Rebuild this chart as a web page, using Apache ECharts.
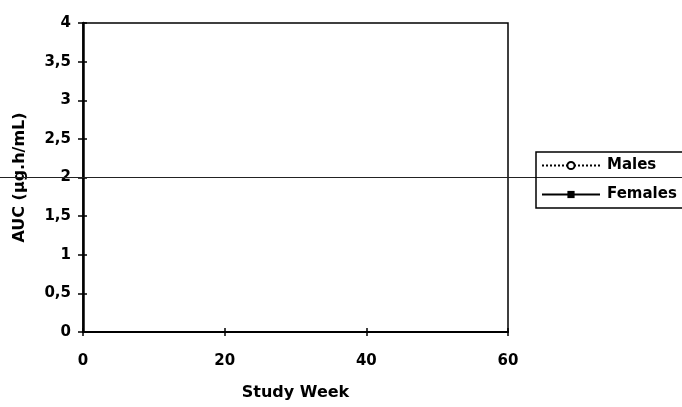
<!DOCTYPE html>
<html><head><meta charset="utf-8">
<script src="https://cdn.jsdelivr.net/npm/echarts@6/dist/echarts.min.js"></script>
<style>html,body{margin:0;padding:0;background:#fff}#c{width:682px;height:407px}</style>
</head><body><div id="c"></div>
<script>
const xTicks = [0, 20, 40, 60];
const yTicks = [0, 0.5, 1, 1.5, 2, 2.5, 3, 3.5, 4];
const seriesNames = ['Males', 'Females'];
const malesData = [];
const femalesData = [];
const refLineValue = 2;
const refLineSpan = [0, 1];

const font = {fontFamily: 'DejaVu Sans, Liberation Sans, Arial, sans-serif', fontWeight: 'bold', color: '#000'};
const xMin = xTicks[0], xMax = xTicks[xTicks.length - 1], xInt = xTicks[1] - xTicks[0];
const yMin = yTicks[0], yMax = yTicks[yTicks.length - 1], yInt = yTicks[1] - yTicks[0];
const chart = echarts.init(document.getElementById('c'));
chart.setOption({
  animation: false,
  backgroundColor: '#fff',
  grid: [
    {left: 83, right: 174, top: 23, bottom: 75, show: true, borderColor: '#000', borderWidth: 1.5},
    {left: 0, right: 0, top: 23, bottom: 75, show: false}
  ],
  xAxis: [
    {type: 'value', gridIndex: 0, min: xMin, max: xMax, interval: xInt, position: 'bottom',
     name: 'Study Week', nameLocation: 'middle', nameGap: 53,
     nameTextStyle: Object.assign({fontSize: 16}, font),
     axisLine: {show: true, onZero: false, lineStyle: {color: '#000', width: 2}},
     axisTick: {show: true, inside: false, length: 4, lineStyle: {color: '#000', width: 1.5}},
     axisLabel: Object.assign({fontSize: 15, margin: 22}, font),
     splitLine: {show: false}},
    {type: 'value', gridIndex: 1, min: refLineSpan[0], max: refLineSpan[1], show: false},
    {type: 'value', gridIndex: 0, min: xMin, max: xMax, interval: xInt, position: 'bottom',
     axisLine: {show: false, onZero: false},
     axisTick: {show: true, inside: true, length: 4, lineStyle: {color: '#000', width: 1.5}},
     axisLabel: {show: false}, splitLine: {show: false}}
  ],
  yAxis: [
    {type: 'value', gridIndex: 0, min: yMin, max: yMax, interval: yInt, position: 'left',
     name: 'AUC (µg.h/mL)', nameLocation: 'middle', nameGap: 55, nameRotate: 90,
     nameTextStyle: Object.assign({fontSize: 16}, font),
     axisLine: {show: true, onZero: false, lineStyle: {color: '#000', width: 2.5}},
     axisTick: {show: true, inside: false, length: 5, lineStyle: {color: '#000', width: 1.5}},
     axisLabel: Object.assign({fontSize: 15, margin: 12, formatter: v => String(v).replace('.', ',')}, font),
     splitLine: {show: false}},
    {type: 'value', gridIndex: 1, min: yMin, max: yMax, show: false},
    {type: 'value', gridIndex: 0, min: yMin, max: yMax, interval: yInt, position: 'left',
     axisLine: {show: false, onZero: false},
     axisTick: {show: true, inside: true, length: 4, lineStyle: {color: '#000', width: 1.5}},
     axisLabel: {show: false}, splitLine: {show: false}}
  ],
  legend: {
    data: seriesNames, orient: 'vertical', left: 536, top: 152,
    itemWidth: 58, itemHeight: 9, itemGap: 14,
    padding: [6, 40, 6, 5],
    borderColor: '#000', borderWidth: 1.5, backgroundColor: 'transparent',
    textStyle: Object.assign({fontSize: 15, padding: [0, 0, 0, 2]}, font)
  },
  series: [
    {name: 'Males', type: 'line', xAxisIndex: 0, yAxisIndex: 0, data: malesData,
     symbol: 'circle', symbolSize: 7, showSymbol: true,
     itemStyle: {color: '#fff', borderColor: '#000', borderWidth: 1.5},
     lineStyle: {color: '#000', type: 'dotted', width: 1.5}},
    {name: 'Females', type: 'line', xAxisIndex: 0, yAxisIndex: 0, data: femalesData,
     symbol: 'rect', symbolSize: 7, showSymbol: true,
     itemStyle: {color: '#000', borderColor: '#000'},
     lineStyle: {color: '#000', type: 'solid', width: 1.5}},
    {name: 'ref', type: 'line', xAxisIndex: 1, yAxisIndex: 1, silent: true, z: 1,
     data: refLineSpan.map(x => [x, refLineValue]), symbol: 'none',
     lineStyle: {color: '#222', width: 1}}
  ]
});
</script></body></html>
